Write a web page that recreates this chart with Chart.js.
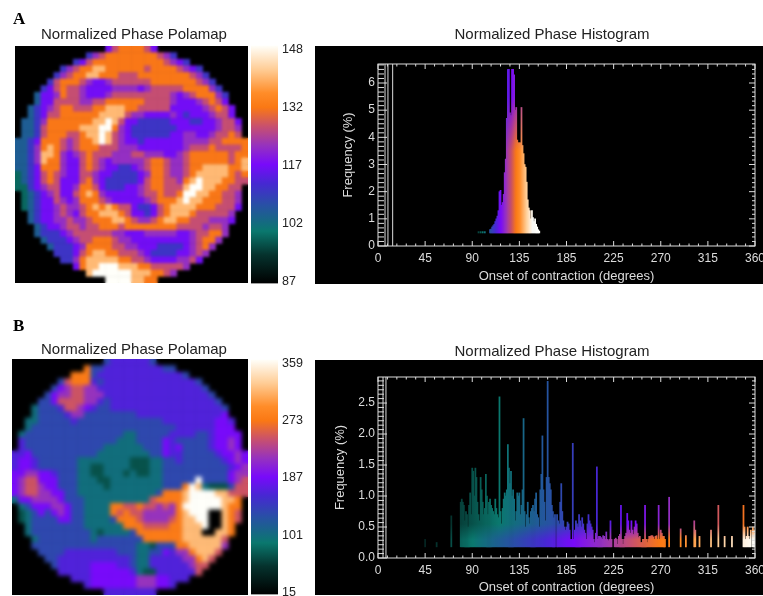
<!DOCTYPE html>
<html lang="en">
<head>
    <meta charset="UTF-8">
    <title>Normalized Phase Polamap and Histogram</title>
    <script src="https://cdn.jsdelivr.net/npm/chart.js"></script>
    <style>
        html, body { margin: 0; background: #fff; overflow: hidden; }
        #page { position: relative; width: 763px; height: 596px; overflow: hidden; filter: blur(0.5px); }
        canvas { position: absolute; }
        .tag { position: absolute; left: 13px; font: bold 17px "Liberation Serif", serif; color: #000; }
    </style>
</head>
<body>
<div id="page">
    <div class="tag" style="top:9px">A</div>
    <div class="tag" style="top:316px">B</div>
    <canvas id="polarA" width="238" height="258" style="left:15px;top:25px"></canvas>
    <canvas id="barA" width="60" height="261" style="left:251px;top:34px"></canvas>
    <canvas id="histA" width="474" height="259" style="left:315px;top:25px"></canvas>
    <canvas id="polarB" width="244" height="260" style="left:12px;top:335px"></canvas>
    <canvas id="barB" width="60" height="258" style="left:251px;top:348px"></canvas>
    <canvas id="histB" width="474" height="260" style="left:315px;top:335px"></canvas>
</div>

<script>
    // colour scale labels, evenly spaced on the bar
    const barLabelsA = ['87', '102', '117', '132', '148'];
    const barLabelsB = ['15', '101', '187', '273', '359'];

    // value of each symbol used in the polar map rows (0-9, then a)
    const levelValuesA = [87, 99, 105, 111, 117, 122, 127, 132, 140, 148];
    const levelValuesB = [15, 72, 100, 135, 187, 215, 245, 273, 315, 359, 165];

    // polar maps, one string per row ('.' = outside the map)
    const polarRowsA = [
        '...... ...... ..4677 7764.. ...... ......',
        '...... .....3 567777 777765 3..... ......',
        '...... ...346 777777 777776 543... ......',
        '...... .35677 887777 776777 76543. ......',
        '...... 356778 877766 677777 777653 ......',
        '.....3 677765 445666 666777 777765 3.....',
        '....34 676654 444555 545666 667777 53....',
        '...244 576654 445666 666666 545677 753...',
        '...244 666655 667777 776666 544456 764...',
        '..2345 677666 778887 766666 444445 6764..',
        '..2346 677777 788886 554444 543444 5664..',
        '.22357 777777 889864 433333 444334 45664.',
        '.22367 777788 899754 333333 344444 45665.',
        '.22367 776678 898654 333333 445544 56676.',
        '223477 765677 898654 434444 445555 667777',
        '223578 765677 766655 544444 445666 766667',
        '223588 754567 666555 665554 456777 777677',
        '223587 754467 654555 556776 556777 777678',
        '223477 754467 654433 456776 556778 888778',
        '123467 654466 544333 345776 556788 888767',
        '123467 644467 543333 346776 657898 887766',
        '113456 644577 643334 456776 668998 87766.',
        '.12345 644678 754444 456676 679988 77665.',
        '.12344 654577 765444 445677 789887 77665.',
        '.12344 565567 878766 433467 888877 76664.',
        '..2344 565467 788876 443467 888766 6665..',
        '..2344 556556 777887 655678 877666 5554..',
        '...234 456656 677767 777777 766665 665...',
        '...233 345666 666554 445555 544566 775...',
        '....23 334566 777655 444444 444567 75....',
        '.....2 333457 777665 544433 334567 5.....',
        '...... 333467 887766 654333 344565 ......',
        '...... .33578 888877 665444 45564. ......',
        '...... ...478 899988 877666 665... ......',
        '...... .....8 999999 888776 5..... ......',
        '...... ...... ..9999 8877.. ...... ......'
    ];
    const polarRowsB = [
        '...... ...... ..3aaa aaa3.. ...... ......',
        '...... .....7 33aaaa aaaaa3 3..... ......',
        '...... ...777 3aaaaa aaaaaa aa3... ......',
        '...... .36777 a3aaaa aaaaaa aaaa3. ......',
        '...... 345665 5aaaaa aaaaaa aaaaa3 ......',
        '.....3 455665 55aaaa aaaaaa aaaaaa 3.....',
        '....33 466665 5a3aaa aaaaaa aaaaaa a3....',
        '...233 3a6654 a33aaa aaaaaa aaaaaa aa3...',
        '...233 33a553 333333 3aaaaa aaaaaa aa4...',
        '..2233 333a33 333333 33333a aaaaaa a44a..',
        '..2333 333333 333333 333333 3aaaaa a444..',
        '.23333 333333 333332 233333 aaaa33 a4444.',
        '.a3333 333333 333322 233334 a33333 a4454.',
        '.a3333 333333 332222 223334 a43333 a4454.',
        'aa4333 333333 322222 222334 aa3333 3a4454',
        'a44a33 333322 222222 111223 3a3333 33a454',
        'a44a33 333322 112222 111223 333333 333a45',
        '445544 a33322 112221 211223 333333 333455',
        '456644 433322 211222 222223 333393 333456',
        '456654 433322 221222 222223 337982 111366',
        '456655 443322 222222 222237 778999 988666',
        '244555 543332 222222 222677 778999 99887.',
        '.23444 554332 222776 676656 579999 99877.',
        '.12343 454332 222767 665555 578999 00876.',
        '.12333 344332 222377 765555 678899 00876.',
        '..2333 333332 222227 776666 778889 0087..',
        '..2333 333333 212222 377777 778880 0887..',
        '...233 333333 233333 337777 778888 886...',
        '...333 333333 333333 322133 377888 885...',
        '....33 33aaaa aaaa33 322334 a55788 86....',
        '.....3 3aaaaa aaaaaa 322aaa aa5578 6.....',
        '...... 3aaaaa 4444aa 322aaa aaa566 ......',
        '...... .aaaaa 444444 a211aa aaaa6. ......',
        '...... ...aaa 444444 455544 aaa... ......',
        '...... .....a 444444 455544 a..... ......',
        '...... ...... ..aaaa aaaa.. ...... ......'
    ];

    // histogram A, frequency per degree
    const histDegreesA = [96, 98, 100, 102,
        107, 108, 109, 110, 111, 112, 113, 114, 115, 116, 117, 118, 119, 120, 121, 122, 123, 124, 125, 126, 127, 128, 129, 130,
        131, 132, 133, 134, 135, 136, 137, 138, 139, 140, 141, 142, 143, 144, 145, 146, 147, 148, 149, 150, 151, 152, 153, 154];
    const histFreqA = [0.53, 0.53, 0.53, 0.53,
        0.6, 0.62, 0.7, 0.75, 0.8, 0.9, 1.0, 1.1, 1.3, 2.0, 2.05, 1.5, 1.6, 1.9, 2.7, 3.2, 4.7, 6.5, 6.5, 4.9, 4.8, 6.5, 6.5, 6.3,
        5.0, 5.1, 3.9, 3.8, 3.8, 3.8, 5.1, 3.7, 3.4, 3.0, 2.9, 2.35, 1.7, 1.4, 1.3, 1.0, 1.3, 1.05, 0.9, 1.0, 0.8, 0.7, 0.6, 0.55];

    // histogram B
    const histDegreesB = [45, 56, 70,
        79, 80, 81, 82, 83, 84, 85, 86, 87, 88, 89,
        90, 91, 92, 93, 94, 95, 96, 97, 98, 99,
        100, 101, 102, 103, 104, 105, 106, 107, 108, 109,
        110, 111, 112, 113, 114, 115, 116, 117, 118, 119,
        120, 121, 122, 123, 124, 125, 126, 127, 128, 129,
        130, 131, 132, 133, 134, 135, 136, 137, 138, 139,
        140, 141, 142, 143, 144, 145, 146, 147, 148, 149,
        150, 151, 152, 153, 154, 155, 156, 157, 158, 159,
        160, 161, 162, 163, 164, 165, 166, 167, 168, 169,
        171, 172, 173, 174, 175, 176, 177, 178, 179,
        180, 181, 182, 183, 184, 185, 186, 187, 188, 189,
        190, 191, 192, 193, 194, 195, 196, 197, 198, 199,
        200, 201, 202, 203, 204, 205, 206, 207, 208, 209,
        210, 211, 212, 213, 214, 215, 216, 217, 218, 219,
        220, 221, 222, 223, 226, 227, 228, 229,
        230, 231, 232, 233, 234, 235, 236, 237, 238, 239,
        240, 241, 242, 243, 244, 245, 246, 247, 248, 249,
        250, 251, 252, 253, 254, 255, 256, 257, 258, 259,
        260, 261, 262, 263, 264, 265, 266, 267, 268, 269,
        270, 271, 272, 273, 274, 278, 289, 294, 302, 303, 307, 318, 325, 331, 338,
        349, 350, 351, 352, 353, 354, 355, 356, 358, 359, 360];
    const histFreqB = [0.3, 0.25, 0.68,
        0.9, 0.95, 0.9, 0.85, 0.6, 0.75, 0.7, 0.5, 0.85, 1.05, 0.7,
        1.45, 1.4, 1.0, 1.45, 1.3, 0.9, 0.7, 0.6, 1.3, 1.1,
        0.9, 0.7, 0.8, 1.35, 1.0, 0.7, 0.9, 0.95, 0.85, 0.8,
        0.75, 0.7, 0.95, 0.8, 0.7, 0.65, 2.6, 0.75, 0.55, 0.8,
        0.95, 1.05, 1.0, 1.1, 1.83, 1.45, 1.2, 1.4, 1.0, 1.1,
        0.95, 0.6, 0.75, 1.05, 1.0, 1.05, 0.7, 0.85, 1.1, 2.25,
        0.75, 0.5, 0.7, 0.9, 0.65, 0.55, 0.75, 0.8, 0.85, 0.75,
        0.95, 1.05, 0.7, 0.65, 0.5, 1.1, 1.35, 1.97, 1.1, 0.9,
        0.6, 1.3, 2.85, 1.3, 1.2, 1.1, 0.85, 0.75, 0.65, 0.7,
        0.7, 0.6, 0.55, 0.9, 1.2, 0.75, 0.6, 0.5, 0.45,
        0.5, 0.58, 0.55, 0.45, 0.3, 0.3, 1.85, 0.3, 0.45, 0.6,
        0.55, 0.5, 0.7, 0.6, 0.5, 0.65, 0.55, 0.45, 0.4, 0.3,
        0.55, 0.7, 0.6, 0.55, 0.5, 0.45, 0.3, 0.25, 0.4, 1.47,
        0.3, 0.35, 0.35, 0.33, 0.3, 0.36, 0.35, 0.3, 0.42, 0.3,
        0.28, 0.3, 0.6, 0.3, 0.3, 0.32, 0.3, 0.22,
        0.35, 0.38, 0.85, 0.3, 0.22, 0.3, 0.35, 0.4, 0.72, 0.6,
        0.45, 0.4, 0.6, 0.45, 0.38, 0.5, 0.6, 0.55, 0.4, 0.33,
        0.35, 0.25, 0.25, 0.3, 0.3, 0.85, 0.3, 0.25, 0.3, 0.35,
        0.35, 0.36, 0.36, 0.34, 0.3, 0.35, 0.36, 0.3, 0.85, 0.3,
        0.45, 0.4, 0.35, 0.35, 0.3, 0.98, 0.47, 0.36, 0.6, 0.45, 0.35, 0.45, 0.85, 0.35, 0.35,
        0.85, 0.5, 0.3, 0.35, 0.5, 0.35, 0.3, 0.45, 0.5, 0.45, 0.4];

    const xTickValues = [0, 45, 90, 135, 180, 225, 270, 315, 360];
    const xTickLabels = ['0', '45', '90', '135', '185', '225', '270', '315', '360'];
    const yTickValuesA = [0, 1, 2, 3, 4, 5, 6];
    const yTickLabelsA = ['0', '1', '2', '3', '4', '5', '6'];
    const yTickValuesB = [0, 0.5, 1, 1.5, 2, 2.5];
    const yTickLabelsB = ['0.0', '0.5', '1.0', '1.5', '2.0', '2.5'];

    const FONT = '"Liberation Sans", Arial, sans-serif';
    const AXIS_COLOR = '#dcdcdc';

    // black - teal - blue - purple - orange - white, same as the colour bars
    const colorStops = [
        [0, 0, 0, 0], [0.12, 5, 50, 45], [0.22, 10, 120, 110], [0.33, 40, 80, 165],
        [0.42, 70, 40, 210], [0.5, 120, 10, 250], [0.58, 150, 50, 190], [0.66, 200, 80, 110],
        [0.74, 250, 120, 20], [0.8, 255, 140, 40], [0.9, 255, 205, 150], [1, 255, 255, 250]
    ];

    function colorAt(f) {
        f = Math.min(1, Math.max(0, f));
        for (let i = 1; i < colorStops.length; i++) {
            const a = colorStops[i - 1], b = colorStops[i];
            if (f <= b[0]) {
                const t = (f - a[0]) / (b[0] - a[0]);
                const c = [1, 2, 3].map(k => Math.round(a[k] + (b[k] - a[k]) * t));
                return 'rgb(' + c.join(',') + ')';
            }
        }
        return 'rgb(255,255,250)';
    }

    // black rectangle behind the plot; top null means just the chart area
    const panelPlugin = {
        id: 'panel',
        beforeDraw(chart, args, opts) {
            const a = chart.chartArea, c = chart.ctx;
            c.save();
            c.fillStyle = '#000';
            if (opts.top === null) c.fillRect(a.left, a.top, a.width, a.height);
            else c.fillRect(0, opts.top, chart.width, chart.height - opts.top);
            c.restore();
        }
    };

    // soften the marks, the reference is a blurred scan
    const softenPlugin = {
        id: 'soften',
        afterDatasetsDraw(chart, args, opts) {
            const a = chart.chartArea, c = chart.ctx;
            c.save();
            c.beginPath();
            c.rect(a.left, a.top, a.width, a.height);
            c.clip();
            c.filter = 'blur(' + opts.radius + 'px)';
            c.drawImage(c.canvas, 0, 0);
            c.restore();
        }
    };

    function spacerAxis(width) {
        return {
            position: 'right',
            afterFit(s) { s.width = width; },
            grid: { display: false, drawTicks: false },
            border: { display: false },
            ticks: { display: false }
        };
    }

    function makePolar(id, rows, levels, titlePad, spacer, blur) {
        const points = [], colors = [];
        const lo = Math.min(...levels), hi = Math.max(...levels);
        rows.forEach((line, r) => {
            const row = line.replace(/ /g, '');
            for (let c = 0; c < row.length; c++) {
                if (row[c] === '.') continue;
                points.push({ x: c, y: r });
                colors.push(colorAt((levels[parseInt(row[c], 36)] - lo) / (hi - lo)));
            }
        });
        new Chart(document.getElementById(id), {
            type: 'scatter',
            data: { datasets: [{
                data: points,
                pointStyle: 'rect',
                pointRadius: 5,
                pointBorderWidth: 0,
                pointBackgroundColor: colors
            }] },
            options: {
                responsive: false,
                animation: false,
                layout: { autoPadding: false },
                plugins: {
                    legend: { display: false },
                    tooltip: { enabled: false },
                    title: {
                        display: true,
                        text: 'Normalized Phase Polamap',
                        color: '#222',
                        font: { family: FONT, size: 15, weight: 'normal' },
                        padding: titlePad
                    },
                    panel: { top: null },
                    soften: { radius: blur }
                },
                scales: {
                    x: { display: false, min: -0.5, max: 35.5 },
                    y: { display: false, min: -0.5, max: 35.5, reverse: true },
                    spacer: spacerAxis(spacer)
                }
            },
            plugins: [panelPlugin, softenPlugin]
        });
    }

    function makeColorBar(id, labels, range) {
        new Chart(document.getElementById(id), {
            type: 'bar',
            data: { labels: [''], datasets: [{
                data: [range],
                barPercentage: 1,
                categoryPercentage: 1,
                backgroundColor(ctx) {
                    const area = ctx.chart.chartArea;
                    if (!area) return '#000';
                    const g = ctx.chart.ctx.createLinearGradient(0, area.bottom, 0, area.top);
                    colorStops.forEach(s => g.addColorStop(s[0], colorAt(s[0])));
                    return g;
                }
            }] },
            options: {
                responsive: false,
                animation: false,
                layout: { autoPadding: false },
                plugins: { legend: { display: false }, tooltip: { enabled: false } },
                scales: {
                    x: { display: false },
                    y: {
                        position: 'right',
                        min: range[0],
                        max: range[1],
                        afterFit(s) { s.width = 33; },
                        afterBuildTicks(s) { s.ticks = labels.map((_, i) => ({ value: i })); },
                        grid: { display: false, drawTicks: false },
                        border: { display: false },
                        ticks: {
                            color: '#222',
                            padding: 4,
                            font: { family: FONT, size: 12.5 },
                            callback: (v, i) => labels[i]
                        }
                    }
                }
            }
        });
    }

    // frame with inward ticks on all four sides, plus the stray vertical lines
    const framePlugin = {
        id: 'frame',
        afterDraw(chart, args, opts) {
            const { ctx, chartArea: a, scales: { x, y } } = chart;
            ctx.save();
            ctx.strokeStyle = AXIS_COLOR;
            ctx.lineWidth = 1;
            ctx.strokeRect(a.left, a.top, a.width, a.height);
            ctx.beginPath();
            for (let d = 0, n = 0; d <= 360; d += 9, n++) {
                const px = x.getPixelForValue(d), len = n % 5 === 0 ? 5 : 2.5;
                ctx.moveTo(px, a.bottom); ctx.lineTo(px, a.bottom - len);
                ctx.moveTo(px, a.top); ctx.lineTo(px, a.top + len);
            }
            for (let n = 0; n * opts.minorStep <= y.max; n++) {
                const py = y.getPixelForValue(n * opts.minorStep), major = n % opts.majorEvery === 0;
                ctx.moveTo(a.left, py); ctx.lineTo(a.left + (major ? 9 : 6), py);
                ctx.moveTo(a.right, py); ctx.lineTo(a.right - (major ? 6 : 3), py);
            }
            opts.guides.forEach(d => {
                const px = x.getPixelForValue(d);
                ctx.moveTo(px, a.top); ctx.lineTo(px, a.bottom);
            });
            ctx.stroke();
            ctx.restore();
        }
    };

    function makeHistogram(cfg) {
        new Chart(document.getElementById(cfg.id), {
            type: 'bar',
            data: { labels: cfg.degrees, datasets: [{
                data: cfg.freq,
                base: cfg.base,
                barThickness: 1.1,
                // hot colour near the base, cooler towards the top of a spike
                backgroundColor(ctx) {
                    const { chartArea: area, scales: { y } } = ctx.chart;
                    if (!area || ctx.dataIndex === undefined) return '#000';
                    const f = (cfg.degrees[ctx.dataIndex] - cfg.colorMin) / (cfg.colorMax - cfg.colorMin);
                    const g = ctx.chart.ctx.createLinearGradient(0, y.getPixelForValue(cfg.fade[0]), 0, y.getPixelForValue(cfg.fade[1]));
                    g.addColorStop(0, colorAt(f));
                    g.addColorStop(1, colorAt(f * 0.75));
                    return g;
                }
            }] },
            options: {
                responsive: false,
                animation: false,
                layout: { autoPadding: false },
                plugins: {
                    legend: { display: false },
                    tooltip: { enabled: false },
                    title: {
                        display: true,
                        text: 'Normalized Phase Histogram',
                        color: '#222',
                        font: { family: FONT, size: 15, weight: 'normal' },
                        padding: cfg.titlePad
                    },
                    panel: { top: cfg.panelTop },
                    soften: { radius: 0.7 },
                    frame: { minorStep: cfg.minorStep, majorEvery: cfg.majorEvery, guides: cfg.guides }
                },
                scales: {
                    x: {
                        type: 'linear',
                        min: 0,
                        max: 360,
                        offset: false,
                        afterFit(s) { s.height = cfg.xAxisHeight; },
                        afterBuildTicks(s) { s.ticks = xTickValues.map(v => ({ value: v })); },
                        grid: { display: false, drawTicks: false },
                        border: { display: false },
                        ticks: {
                            color: AXIS_COLOR,
                            padding: 5,
                            maxRotation: 0,
                            autoSkip: false,
                            font: { family: FONT, size: 12 },
                            callback: (v, i) => xTickLabels[i]
                        },
                        title: {
                            display: true,
                            text: 'Onset of contraction (degrees)',
                            color: AXIS_COLOR,
                            font: { family: FONT, size: 13 },
                            padding: { top: 4, bottom: 0 }
                        }
                    },
                    y: {
                        min: 0,
                        max: cfg.yMax,
                        afterFit(s) { s.width = 63; },
                        afterBuildTicks(s) { s.ticks = cfg.yTicks.map(v => ({ value: v })); },
                        grid: { display: false, drawTicks: false },
                        border: { display: false },
                        ticks: {
                            color: AXIS_COLOR,
                            padding: 3,
                            font: { family: FONT, size: 12 },
                            callback: (v, i) => cfg.yLabels[i]
                        },
                        title: {
                            display: true,
                            text: 'Frequency (%)',
                            color: AXIS_COLOR,
                            font: { family: FONT, size: 13 },
                            padding: { top: cfg.yTitleOffset, bottom: 0 }
                        }
                    },
                    spacer: spacerAxis(34)
                }
            },
            plugins: [panelPlugin, softenPlugin, framePlugin]
        });
    }

    makePolar('polarA', polarRowsA, levelValuesA, { top: 1, bottom: 2 }, 5, 1.6);
    makePolar('polarB', polarRowsB, levelValuesB, { top: 5.5, bottom: 0.5 }, 8, 2);
    makeColorBar('barA', barLabelsA, [-0.035, 4.07]);
    makeColorBar('barB', barLabelsB, [-0.035, 4.07]);

    makeHistogram({
        id: 'histA', degrees: histDegreesA, freq: histFreqA, base: 0.48, colorMin: 87, colorMax: 148, fade: [3.5, 5.5],
        yMax: 6.7, yTicks: yTickValuesA, yLabels: yTickLabelsA, minorStep: 1 / 6, majorEvery: 6,
        guides: [6.7, 9.5, 14], titlePad: { top: 1, bottom: 20 }, panelTop: 21, xAxisHeight: 38, yTitleOffset: 26
    });
    makeHistogram({
        id: 'histB', degrees: histDegreesB, freq: histFreqB, base: 0.18, colorMin: 15, colorMax: 359, fade: [0.3, 0.55],
        yMax: 2.92, yTicks: yTickValuesB, yLabels: yTickLabelsB, minorStep: 0.5 / 7, majorEvery: 7,
        guides: [4.8, 7.6], titlePad: { top: 8, bottom: 16 }, panelTop: 25, xAxisHeight: 37, yTitleOffset: 18
    });
</script>
</body>
</html>
